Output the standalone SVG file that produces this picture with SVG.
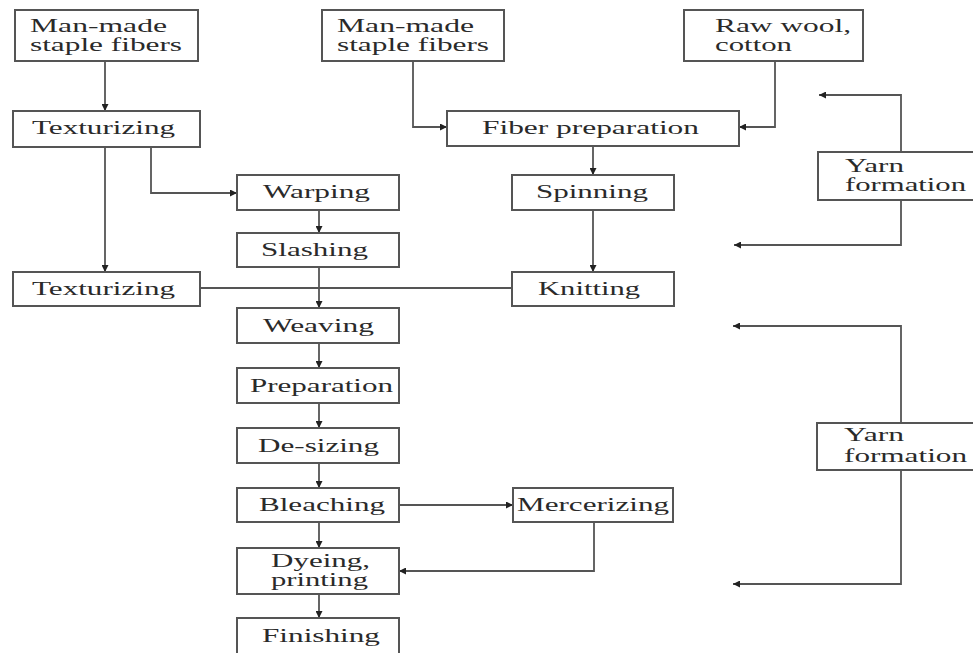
<svg xmlns="http://www.w3.org/2000/svg" width="973" height="653" viewBox="0 0 973 653">
<style>
.box{fill:#fff;stroke:#555;stroke-width:2}
.t{font-family:"Liberation Serif","Times New Roman",serif;font-size:19px;fill:#2a2a2a}
.c{fill:none;stroke:#555;stroke-width:1.8}
</style>
<defs>
<marker id="ah" viewBox="0 0 10 10" refX="10" refY="5" markerWidth="9" markerHeight="7" markerUnits="userSpaceOnUse" orient="auto">
<path d="M0,0 L10,5 L0,10 z" fill="#222"/>
</marker>
</defs>
<rect width="973" height="653" fill="#fff"/>
<g id="connectors">
<path class="c" d="M105,61 V111" marker-end="url(#ah)"/>
<path class="c" d="M105,147 V272" marker-end="url(#ah)"/>
<path class="c" d="M151,147 V193 H237" marker-end="url(#ah)"/>
<path class="c" d="M319,210 V233" marker-end="url(#ah)"/>
<path class="c" d="M319,267 V308" marker-end="url(#ah)"/>
<path class="c" d="M200,288 H512"/>
<path class="c" d="M413,61 V127 H447" marker-end="url(#ah)"/>
<path class="c" d="M775,61 V127 H739" marker-end="url(#ah)"/>
<path class="c" d="M593,146 V175" marker-end="url(#ah)"/>
<path class="c" d="M593,210 V272" marker-end="url(#ah)"/>
<path class="c" d="M901,152 V95 H819" marker-end="url(#ah)"/>
<path class="c" d="M901,200 V245 H734" marker-end="url(#ah)"/>
<path class="c" d="M901,423 V326 H733" marker-end="url(#ah)"/>
<path class="c" d="M901,470 V584 H733" marker-end="url(#ah)"/>
<path class="c" d="M319,343 V368" marker-end="url(#ah)"/>
<path class="c" d="M319,403 V428" marker-end="url(#ah)"/>
<path class="c" d="M319,463 V488" marker-end="url(#ah)"/>
<path class="c" d="M319,522 V548" marker-end="url(#ah)"/>
<path class="c" d="M319,594 V618" marker-end="url(#ah)"/>
<path class="c" d="M399,505 H513" marker-end="url(#ah)"/>
<path class="c" d="M594,522 V571 H399" marker-end="url(#ah)"/>
</g>
<g id="n-manmade1"><rect class="box" x="15" y="10" width="183" height="51"/>
<text class="t" x="30" y="32" textLength="137" lengthAdjust="spacingAndGlyphs">Man-made</text>
<text class="t" x="30" y="51" textLength="152" lengthAdjust="spacingAndGlyphs">staple fibers</text></g>
<g id="n-manmade2"><rect class="box" x="322" y="10" width="182" height="51"/>
<text class="t" x="337" y="32" textLength="137" lengthAdjust="spacingAndGlyphs">Man-made</text>
<text class="t" x="337" y="51" textLength="152" lengthAdjust="spacingAndGlyphs">staple fibers</text></g>
<g id="n-rawwool"><rect class="box" x="684" y="10" width="179" height="51"/>
<text class="t" x="715" y="32" textLength="136" lengthAdjust="spacingAndGlyphs">Raw wool,</text>
<text class="t" x="715" y="51" textLength="77" lengthAdjust="spacingAndGlyphs">cotton</text></g>
<g id="n-texturizing1"><rect class="box" x="13" y="111" width="187" height="36"/>
<text class="t" x="32" y="134" textLength="143" lengthAdjust="spacingAndGlyphs">Texturizing</text></g>
<g id="n-fiberprep"><rect class="box" x="447" y="111" width="292" height="35"/>
<text class="t" x="482" y="134" textLength="217" lengthAdjust="spacingAndGlyphs">Fiber preparation</text></g>
<g id="n-warping"><rect class="box" x="237" y="175" width="162" height="35"/>
<text class="t" x="263" y="198" textLength="107" lengthAdjust="spacingAndGlyphs">Warping</text></g>
<g id="n-spinning"><rect class="box" x="512" y="175" width="162" height="35"/>
<text class="t" x="536" y="198" textLength="112" lengthAdjust="spacingAndGlyphs">Spinning</text></g>
<g id="n-slashing"><rect class="box" x="237" y="233" width="162" height="34"/>
<text class="t" x="261" y="256" textLength="107" lengthAdjust="spacingAndGlyphs">Slashing</text></g>
<g id="n-texturizing2"><rect class="box" x="13" y="272" width="187" height="34"/>
<text class="t" x="32" y="295" textLength="143" lengthAdjust="spacingAndGlyphs">Texturizing</text></g>
<g id="n-knitting"><rect class="box" x="512" y="272" width="162" height="34"/>
<text class="t" x="538" y="295" textLength="102" lengthAdjust="spacingAndGlyphs">Knitting</text></g>
<g id="n-yarn1"><rect class="box" x="818" y="152" width="160" height="48"/>
<text class="t" x="845" y="172" textLength="59" lengthAdjust="spacingAndGlyphs">Yarn</text>
<text class="t" x="845" y="191" textLength="121" lengthAdjust="spacingAndGlyphs">formation</text></g>
<g id="n-weaving"><rect class="box" x="237" y="308" width="162" height="35"/>
<text class="t" x="263" y="332" textLength="111" lengthAdjust="spacingAndGlyphs">Weaving</text></g>
<g id="n-preparation"><rect class="box" x="237" y="368" width="162" height="35"/>
<text class="t" x="250" y="392" textLength="143" lengthAdjust="spacingAndGlyphs">Preparation</text></g>
<g id="n-desizing"><rect class="box" x="237" y="428" width="162" height="35"/>
<text class="t" x="258" y="452" textLength="121" lengthAdjust="spacingAndGlyphs">De-sizing</text></g>
<g id="n-bleaching"><rect class="box" x="237" y="488" width="162" height="34"/>
<text class="t" x="259" y="511" textLength="126" lengthAdjust="spacingAndGlyphs">Bleaching</text></g>
<g id="n-mercerizing"><rect class="box" x="513" y="488" width="160" height="34"/>
<text class="t" x="517" y="511" textLength="152" lengthAdjust="spacingAndGlyphs">Mercerizing</text></g>
<g id="n-yarn2"><rect class="box" x="817" y="423" width="161" height="47"/>
<text class="t" x="844" y="441" textLength="60" lengthAdjust="spacingAndGlyphs">Yarn</text>
<text class="t" x="844" y="462" textLength="123" lengthAdjust="spacingAndGlyphs">formation</text></g>
<g id="n-dyeing"><rect class="box" x="237" y="548" width="162" height="46"/>
<text class="t" x="271" y="567" textLength="99" lengthAdjust="spacingAndGlyphs">Dyeing,</text>
<text class="t" x="271" y="586" textLength="97" lengthAdjust="spacingAndGlyphs">printing</text></g>
<g id="n-finishing"><rect class="box" x="237" y="618" width="162" height="40"/>
<text class="t" x="262" y="642" textLength="118" lengthAdjust="spacingAndGlyphs">Finishing</text></g>
</svg>
